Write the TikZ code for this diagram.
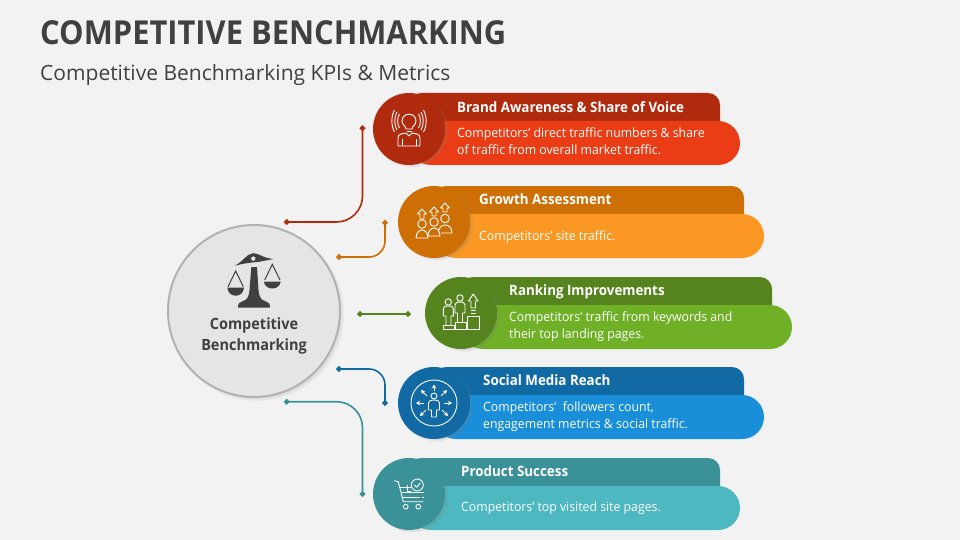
\documentclass[tikz,border=0pt]{standalone}
\usepackage{fontspec}
\setmainfont{Open Sans}
\newfontfamily\narrowsans[FakeStretch=.935]{Open Sans}
\newfontfamily\bodysans[FakeStretch=.96]{Open Sans}
\usetikzlibrary{arrows.meta,shadows}
\definecolor{pagebg}{HTML}{F2F2F2}
\definecolor{inkgrey}{HTML}{404040}
\definecolor{reddark}{HTML}{B02B0E}
\definecolor{redlight}{HTML}{EA3D15}
\definecolor{orangedark}{HTML}{CE6F05}
\definecolor{orangelight}{HTML}{FB9823}
\definecolor{greendark}{HTML}{55841F}
\definecolor{greenlight}{HTML}{6FB026}
\definecolor{bluedark}{HTML}{116AA3}
\definecolor{bluelight}{HTML}{1A8FD9}
\definecolor{tealdark}{HTML}{3A9198}
\definecolor{teallight}{HTML}{4DB8C0}
\tikzset{
  badge/.style={circle,inner sep=0pt,minimum size=72pt,
    circular drop shadow={shadow xshift=2.5pt,shadow yshift=-1.5pt,shadow scale=1.03,opacity=.4}},
  headbar/.style={rounded corners=12pt},
  bodybar/.style={rounded corners=22pt},
  headtext/.style={anchor=base west,inner sep=0pt,text=white,font=\narrowsans\fontsize{14.3}{17}\selectfont\bfseries},
  bodytext/.style={anchor=west,inner sep=0pt,align=left,text=white,font=\bodysans\fontsize{12.8}{17}\selectfont},
  link/.style={line width=1.6pt,{Circle[length=5.5pt]}-{Circle[length=5.5pt]}},
  iconline/.style={draw=white,line width=.9pt,line join=round},
  iconarrow/.style={iconline,-{Stealth[length=4pt,width=4.5pt]}}
}
\begin{document}
\begin{tikzpicture}[x=1pt,y=-1pt]
\fill[pagebg] (0,0) rectangle (960,540);
\node[anchor=base west,inner sep=0pt,text=inkgrey,font=\narrowsans\fontsize{33}{36}\selectfont\bfseries] (title) at (40,45) {COMPETITIVE BENCHMARKING};
\node[anchor=base west,inner sep=0pt,text=inkgrey,font=\fontsize{21}{24}\selectfont] (subtitle) at (40,80.5) {Competitive Benchmarking KPIs \& Metrics};
% connector ends
\coordinate (redfrom) at (284,222);
\coordinate (redto) at (362.5,125.5);
\coordinate (orangefrom) at (336.3,257);
\coordinate (orangeto) at (385,220);
\coordinate (greenfrom) at (357.3,314);
\coordinate (greento) at (410.7,314);
\coordinate (bluefrom) at (336.3,369);
\coordinate (blueto) at (385,405.7);
\coordinate (tealfrom) at (284,401.7);
\coordinate (tealto) at (362.5,496.7);
\draw[link,reddark,rounded corners=26pt] (redfrom) -| (redto);
\draw[link,orangedark,rounded corners=16pt] (orangefrom) -| (orangeto);
\draw[link,greendark] (greenfrom) -- (greento);
\draw[link,bluedark,rounded corners=16pt] (bluefrom) -| (blueto);
\draw[link,tealdark,rounded corners=26pt] (tealfrom) -| (tealto);
% centre
\node[circle,inner sep=0pt,minimum size=172pt,fill=black!10,draw=black!30,line width=2pt,
  circular drop shadow={shadow xshift=2.5pt,shadow yshift=-2.5pt,shadow scale=1.02,opacity=.6}] (hub) at (254,311) {};
\node[inner sep=0pt,text=inkgrey,align=center,font=\narrowsans\fontsize{15.5}{21}\selectfont\bfseries] (hubtext) at (254,336.3) {Competitive\\Benchmarking};
\fill[inkgrey] (234.5,265.7) .. controls (243,262) and (246,254) .. (253,253.2) .. controls (259,253) and (262,258) .. (273.5,259) -- (258,262) .. controls (250,262.5) and (244,263.5) .. (234.5,265.7) -- cycle;
\fill[black!10] (253.3,258.6) circle (2.2);
\fill[inkgrey] (251.3,267) -- (257,267) -- (258.5,290) .. controls (259,297) and (261,300) .. (266,301.5) .. controls (269,302) and (270,304) .. (270,307.7) -- (238,307.7) .. controls (238,304) and (239,302) .. (242,301.5) .. controls (247,300) and (249,297) .. (249.5,290) -- cycle;
\draw[inkgrey,line width=1pt] (228,286.7) -- (235.7,271) -- (243.3,286.7);
\draw[inkgrey,line width=1pt] (264.7,280) -- (272.3,264.3) -- (280,280);
\fill[inkgrey] (227.3,287.7) -- (244,287.7) .. controls (243.5,293) and (240,295.7) .. (235.7,295.7) .. controls (231.5,295.7) and (228,293) .. (227.3,287.7) -- cycle;
\fill[inkgrey] (264,281.7) -- (280.7,281.7) .. controls (280,286) and (276.5,288.5) .. (272.3,288.5) .. controls (268,288.5) and (264.5,286) .. (264,281.7) -- cycle;
% brand awareness
\fill[reddark,headbar] (409,93) rectangle (720,137);
\fill[redlight,bodybar] (409,121) rectangle (740,165);
\node[badge,fill=reddark] (brandbadge) at (409,129) {};
\node[headtext] (brandhead) at (457,112.5) {Brand Awareness \& Share of Voice};
\node[bodytext] (brandbody) at (457,141) {Competitors’ direct traffic numbers \& share\\of traffic from overall market traffic.};
\begin{scope}[shift={(409,129)}]
\draw[iconline] (-3,0) .. controls (-3,-3) and (-7,-4) .. (-7,-8) .. controls (-7,-17) and (7,-17) .. (7,-8) .. controls (7,-4) and (3,-3) .. (3,0) -- cycle;
\draw[iconline] (-2.5,2) -- (2.5,2);
\draw[iconline] (-3,4) -- (-8,5) .. controls (-10,5.5) and (-11,7) .. (-11,9) -- (-11,17) -- (11,17) -- (11,9) .. controls (11,7) and (10,5.5) .. (8,5) -- (3,4) -- (0,7) -- cycle;
\draw[iconline] (-7,17) -- (-7,10) (7,17) -- (7,10);
\draw[iconline] (-9.5,-1) .. controls (-12,-5) and (-12,-11) .. (-9.5,-15);
\draw[iconline] (-12,1) .. controls (-15,-4) and (-15,-12) .. (-12,-17);
\draw[iconline] (-14.5,3) .. controls (-18,-3) and (-18,-13) .. (-14.5,-19);
\draw[iconline] (9.5,-1) .. controls (12,-5) and (12,-11) .. (9.5,-15);
\draw[iconline] (12,1) .. controls (15,-4) and (15,-12) .. (12,-17);
\draw[iconline] (14.5,3) .. controls (18,-3) and (18,-13) .. (14.5,-19);
\end{scope}
% growth assessment
\fill[orangedark,headbar] (434,186) rectangle (744,230);
\fill[orangelight,bodybar] (434,214) rectangle (764,258);
\node[badge,fill=orangedark] (growthbadge) at (434,222) {};
\node[headtext] (growthhead) at (479,204.5) {Growth Assessment};
\node[bodytext] (growthbody) at (479,237.5) {Competitors’ site traffic.};
\begin{scope}[shift={(434,222)}]
\draw[iconline] (-12,2) circle (4.3);
\draw[iconline] (0,0) circle (4.3);
\draw[iconline] (11,-3.5) circle (4.3);
\draw[iconline] (4,12) .. controls (4,6) and (8,3) .. (11,3) .. controls (15,3) and (18,6) .. (18,11) -- (7,11);
\draw[iconline,fill=orangedark] (-6,14) .. controls (-6,9) and (-3,6) .. (0,6) .. controls (3,6) and (6,9) .. (6,14) -- cycle;
\draw[iconline,fill=orangedark] (-18,16) .. controls (-18,11) and (-15,8) .. (-12,8) .. controls (-9,8) and (-6,11) .. (-6,16) -- cycle;
\draw[iconline] (-14,-3) -- (-14,-8) -- (-16.5,-8) -- (-12,-13) -- (-7.5,-8) -- (-10,-8) -- (-10,-3) -- cycle;
\draw[iconline] (-2,-6) -- (-2,-10) -- (-4.5,-10) -- (0,-15) -- (4.5,-10) -- (2,-10) -- (2,-6) -- cycle;
\draw[iconline] (9,-10) -- (9,-14) -- (6.5,-14) -- (11,-19) -- (15.5,-14) -- (13,-14) -- (13,-10) -- cycle;
\end{scope}
% ranking improvements
\fill[greendark,headbar] (461,277) rectangle (772,321);
\fill[greenlight,bodybar] (461,305) rectangle (792,349);
\node[badge,fill=greendark] (rankbadge) at (461,313) {};
\node[headtext] (rankhead) at (509,295) {Ranking Improvements};
\node[bodytext] (rankbody) at (509,327) {Competitors’ traffic from keywords and\\their top landing pages.};
\begin{scope}[shift={(461,313)}]
\draw[iconline] (-12.7,-11) circle (3.2);
\draw[iconline] (-1,-15) circle (3.2);
\draw[iconline] (-15,12.7) -- (-15,3) -- (-17.7,3) -- (-17.7,-4) .. controls (-17.7,-6.5) and (-16,-7) .. (-12.7,-7) .. controls (-9.5,-7) and (-7.7,-6.5) .. (-7.7,-4) -- (-7.7,3) -- (-10,3) -- (-10,12.7);
\draw[iconline] (-3.5,9) -- (-3.5,0) -- (-6,0) -- (-6,-8) .. controls (-6,-10.5) and (-4,-11) .. (-1,-11) .. controls (2,-11) and (4,-10.5) .. (4,-8) -- (4,0) -- (1.5,0) -- (1.5,9);
\draw[iconline] (-17.7,12.7) rectangle (-6.7,16.7);
\draw[iconline] (-5.7,9) rectangle (5.7,16.7);
\draw[iconline] (6.7,3.3) rectangle (18.3,16.7);
\draw[iconline] (10,-5) -- (10,-12) -- (7.5,-12) -- (12.3,-19) -- (17,-12) -- (14.5,-12) -- (14.5,-5) -- cycle;
\draw[iconline] (9.5,-2.3) -- (15,-2.3);
\draw[iconline] (9.5,.5) -- (15,.5);
\end{scope}
% social media reach
\fill[bluedark,headbar] (434,367) rectangle (744,411);
\fill[bluelight,bodybar] (434,395) rectangle (764,439);
\node[badge,fill=bluedark] (socialbadge) at (434,403) {};
\node[headtext] (socialhead) at (483,385) {Social Media Reach};
\node[bodytext] (socialbody) at (483,416.5) {Competitors’\ \ followers count,\\engagement metrics \& social traffic.};
\begin{scope}[shift={(434,403)}]
\draw[iconline] (0,0) circle (23);
\draw[iconline] (0,-7) circle (3);
\draw[iconline] (-2.5,14) -- (-2.5,7) -- (-5.5,7) -- (-5.5,0) .. controls (-5.5,-2.5) and (-3,-3) .. (0,-3) .. controls (3,-3) and (5.5,-2.5) .. (5.5,0) -- (5.5,7) -- (2.5,7) -- (2.5,14) -- cycle;
\draw[iconarrow] (0,-12) -- (0,-18.5);
\draw[iconarrow] (-10,0) -- (-18,0);
\draw[iconarrow] (10,0) -- (18,0);
\draw[iconarrow] (-7,-7) -- (-13,-13);
\draw[iconarrow] (7,-7) -- (13,-13);
\draw[iconarrow] (-8,7) -- (-14,13);
\draw[iconarrow] (8,7) -- (14,13);
\end{scope}
% product success
\fill[tealdark,headbar] (409,458) rectangle (720,502);
\fill[teallight,bodybar] (409,486) rectangle (740,530);
\node[badge,fill=tealdark] (productbadge) at (409,494) {};
\node[headtext] (producthead) at (461,476) {Product Success};
\node[bodytext] (productbody) at (461,508) {Competitors’ top visited site pages.};
\begin{scope}[shift={(409,494)}]
\draw[iconline] (-14.7,-13.3) -- (-10.7,-12.3) -- (-5.7,7.7) -- (14.3,7.7);
\draw[iconline] (-3.3,12.7) circle (2.4);
\draw[iconline] (9.3,12.7) circle (2.4);
\draw[iconline] (8.3,-9) circle (6);
\draw[iconline] (5.5,-9) -- (7.7,-6.8) -- (11.3,-11);
\draw[iconline] (-9,-6.5) -- (2,-6.5);
\draw[iconline] (-1.5,-9) -- (-1.5,-2.5) -- (2,-2.5);
\draw[iconline] (-7.3,-1.3) -- (15.3,-1.3);
\draw[iconline] (-6,3) -- (11,3);
\draw[iconline] (12.5,3) -- (15.3,3);
\end{scope}
\end{tikzpicture}
\end{document}
